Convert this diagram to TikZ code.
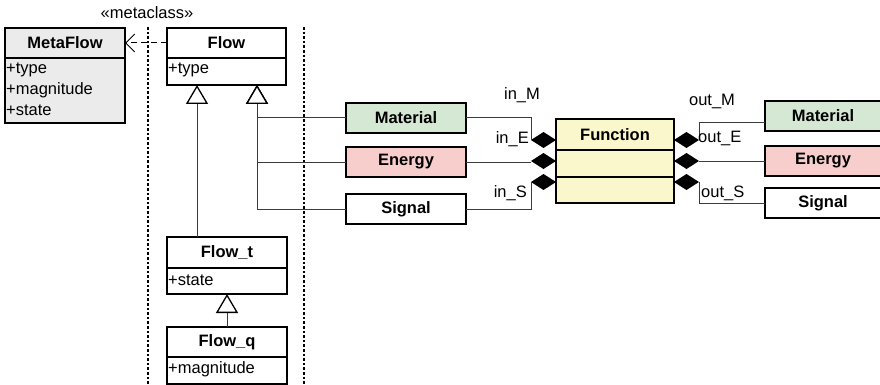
\documentclass[tikz,border=0pt]{standalone}
\usepackage{fontspec}
\setmainfont{Liberation Sans}
\usetikzlibrary{arrows.meta,shapes.geometric}
\definecolor{mfgray}{RGB}{235,235,235}
\definecolor{fyel}{RGB}{249,247,203}
\definecolor{mgreen}{RGB}{213,232,212}
\definecolor{epink}{RGB}{248,206,204}
\definecolor{conn}{RGB}{60,60,60}
\begin{document}
\begin{tikzpicture}[x=1pt,y=-1pt,
  every node/.style={font=\fontsize{16.5}{19}\selectfont},
  box/.style={draw=black, line width=1.4pt, inner sep=0pt, outer sep=0pt, anchor=north west, fill=white},
  attr/.style={anchor=west, inner sep=0pt},
  lbl/.style={inner sep=0pt},
  dia/.style={shape=diamond, fill=black, draw=none, inner sep=0pt, outer sep=0pt, minimum width=25pt, minimum height=16pt},
  connline/.style={draw=conn, line width=1pt},
  inh/.style={connline, -{Triangle[open, length=19pt, width=22pt, line width=1.3pt, color=black, fill=white]}},
  dep/.style={draw=black, line width=1pt, dash pattern=on 6pt off 4pt, -{Straight Barb[length=9pt, width=18pt, line width=1pt]}},
  sep/.style={draw=black, line width=2.6pt, dash pattern=on 2.6pt off 2pt}]
\useasboundingbox (0,0) rectangle (880,385);
\clip (0,0) rectangle (880,385);

% separators
\coordinate (v1t) at (148,27);
\coordinate (v1b) at (148,386);
\coordinate (v2t) at (304,27);
\coordinate (v2b) at (304,386);
\draw[sep] (v1t) -- (v1b);
\draw[sep] (v2t) -- (v2b);

% MetaFlow
\node[box, minimum width=120pt, minimum height=30pt, fill=mfgray] (mfH) at (5,28) {\bfseries MetaFlow};
\node[box, minimum width=120pt, minimum height=65pt, fill=mfgray] (mfA) at (5,58) {};
\node[attr] (mfT1) at (6,70) {+type};
\node[attr] (mfT2) at (6,90) {+magnitude};
\node[attr] (mfT3) at (6,110) {+state};

% Flow
\node[box, minimum width=119pt, minimum height=30pt] (flH) at (167,28) {\bfseries Flow};
\node[box, minimum width=119pt, minimum height=27pt] (flA) at (167,58) {};
\node[attr] (flT1) at (168,70) {+type};

% Flow_t
\node[box, minimum width=120pt, minimum height=31pt] (ftH) at (167,237) {\bfseries Flow\_t};
\node[box, minimum width=120pt, minimum height=26pt] (ftA) at (167,268) {};
\node[attr] (ftT1) at (168,280) {+state};

% Flow_q
\node[box, minimum width=120pt, minimum height=30pt] (fqH) at (167,327) {\bfseries Flow\_q};
\node[box, minimum width=120pt, minimum height=27pt] (fqA) at (167,357) {};
\node[attr] (fqT1) at (168,369) {+magnitude};

% Function
\node[box, minimum width=118pt, minimum height=31pt, fill=fyel] (fnH) at (556,119) {\bfseries Function};
\node[box, minimum width=118pt, minimum height=27pt, fill=fyel] (fnA) at (556,150) {};
\node[box, minimum width=118pt, minimum height=26pt, fill=fyel] (fnB) at (556,177) {};

% left flows
\node[box, minimum width=120pt, minimum height=30pt, fill=mgreen] (mL) at (346,103) {\bfseries Material};
\node[box, minimum width=120pt, minimum height=30pt, fill=epink] (eL) at (346,147) {\bfseries Energy};
\node[box, minimum width=120pt, minimum height=30pt] (sL) at (346,194) {\bfseries Signal};

% right flows
\node[box, minimum width=116pt, minimum height=30pt, fill=mgreen] (mR) at (765,101) {\bfseries Material};
\node[box, minimum width=116pt, minimum height=30pt, fill=epink] (eR) at (765,146) {\bfseries Energy};
\node[box, minimum width=116pt, minimum height=30pt] (sR) at (765,188) {\bfseries Signal};

% diamonds
\node[dia] (dL1) at (543.5,140) {};
\node[dia] (dL2) at (543.5,161) {};
\node[dia] (dL3) at (543.5,182) {};
\node[dia] (dR1) at (686.5,140) {};
\node[dia] (dR2) at (686.5,161) {};
\node[dia] (dR3) at (686.5,182) {};

% connectors to function
\draw[connline] (mL.east) -| (dL1.west);
\draw[connline] (eL.east) -- (eL.east -| dL2.west);
\draw[connline] (sL.east) -| (dL3.west);
\coordinate (oM) at (765,123);
\draw[connline] (dR1.east) |- (oM);
\draw[connline] (dR2.east) -- (dR2.east -| eR.west);
\draw[connline] (dR3.east) |- (sR.west);

% inheritance
\coordinate (t2) at (257,85);
\draw[inh] (sL.west) -| (t2);
\draw[inh] (eL.west) -| (t2);
\draw[inh] (mL.west) -| (t2);
\coordinate (t1) at (197,85);
\coordinate (t1b) at (197,237);
\draw[inh] (t1b) -- (t1);
\draw[inh] (fqH.north) -- (ftA.south);

% instance-of dependency
\draw[dep] (flH.west) -- (mfH.east);

% labels
\node[lbl] (meta) at (147,13) {«metaclass»};
\node[lbl] (inM) at (522,95) {in\_M};
\node[lbl, anchor=east] (inE) at (529,139) {in\_E};
\node[lbl, anchor=east] (inS) at (527,193) {in\_S};
\node[lbl] (outM) at (712,101) {out\_M};
\node[lbl, anchor=west] (outE) at (698,138) {out\_E};
\node[lbl, anchor=west] (outS) at (701,193) {out\_S};
\end{tikzpicture}
\end{document}
